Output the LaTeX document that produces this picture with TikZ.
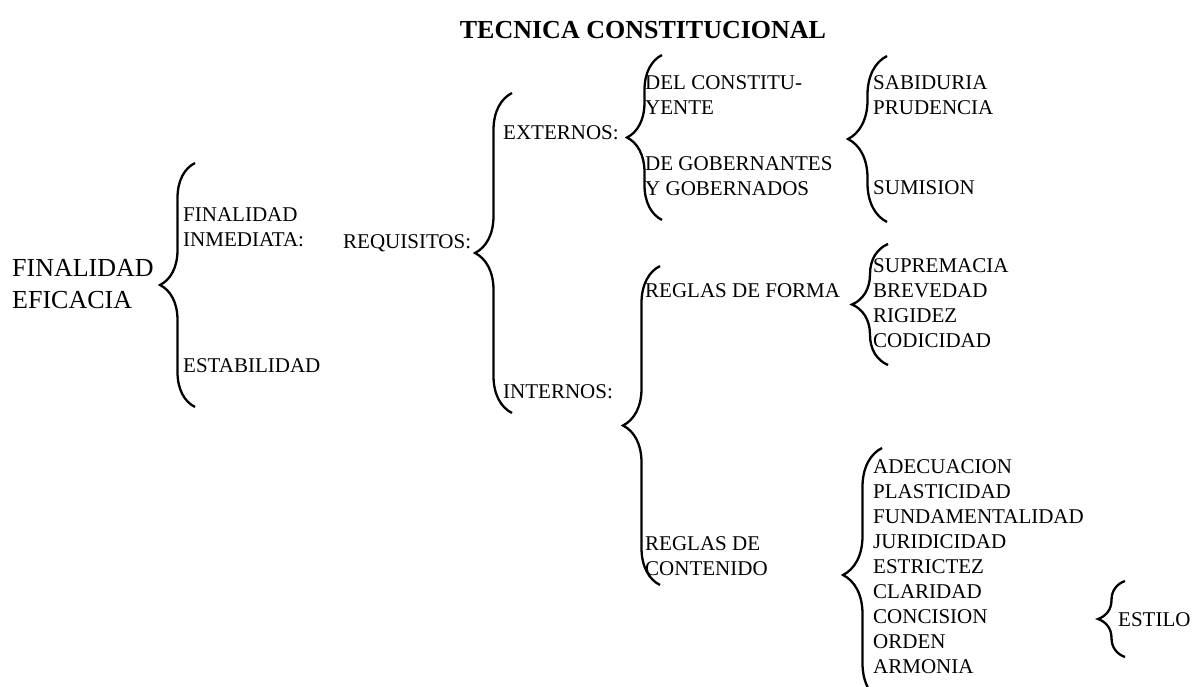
\documentclass[tikz,border=0pt]{standalone}
\usepackage{fontspec}
\setmainfont{Liberation Serif}
\usetikzlibrary{decorations.pathreplacing}

\begin{document}
\begin{tikzpicture}[x=1pt,y=-1pt,
txt/.style={anchor=west,inner sep=0pt,align=left,font=\fontsize{21}{25}\selectfont},
brc/.style={decorate,decoration={brace,amplitude=#1},line width=2.3pt}]
\path[use as bounding box,clip](0,0) rectangle (1192,687);
\node[inner sep=0pt,font=\bfseries\fontsize{26}{30}\selectfont](title) at (643,30){TECNICA CONSTITUCIONAL};
% first level
\node[txt,font=\fontsize{26}{32}\selectfont](fe) at (12,284){FINALIDAD\\EFICACIA};
\node[txt](fi) at (183,227){FINALIDAD\\INMEDIATA:};
\node[txt](estab) at (183,366){ESTABILIDAD};
\node[txt](req) at (343,243){REQUISITOS:};
\node[txt](ext) at (503,133){EXTERNOS:};
\node[txt](int) at (503,392){INTERNOS:};
% externos
\node[txt](del) at (645,95){DEL CONSTITU-\\YENTE};
\node[txt](gob) at (645,176){DE GOBERNANTES\\Y GOBERNADOS};
\node[txt](sab) at (873,95){SABIDURIA\\PRUDENCIA};
\node[txt](sum) at (873,188){SUMISION};
% internos
\node[txt](forma) at (645,291){REGLAS DE FORMA};
\node[txt](cont) at (645,556){REGLAS DE\\CONTENIDO};
\node[txt](sup) at (873,303){SUPREMACIA\\BREVEDAD\\RIGIDEZ\\CODICIDAD};
\node[txt](ade) at (873,567){ADECUACION\\PLASTICIDAD\\FUNDAMENTALIDAD\\JURIDICIDAD\\ESTRICTEZ\\CLARIDAD\\CONCISION\\ORDEN\\ARMONIA};
\node[txt](estilo) at (1118,620){ESTILO};
% braces
\draw[brc=35](195,407)--(195,163);
\draw[brc=37](512,413)--(512,93);
\draw[brc=35](662,220)--(662,55);
\draw[brc=39](887,222)--(887,56);
\draw[brc=37](660,585)--(660,266);
\draw[brc=36](888,365)--(888,244);
\draw[brc=39](882,702)--(882,448);
\draw[brc=27](1125,657)--(1125,581);
\end{tikzpicture}
\end{document}
